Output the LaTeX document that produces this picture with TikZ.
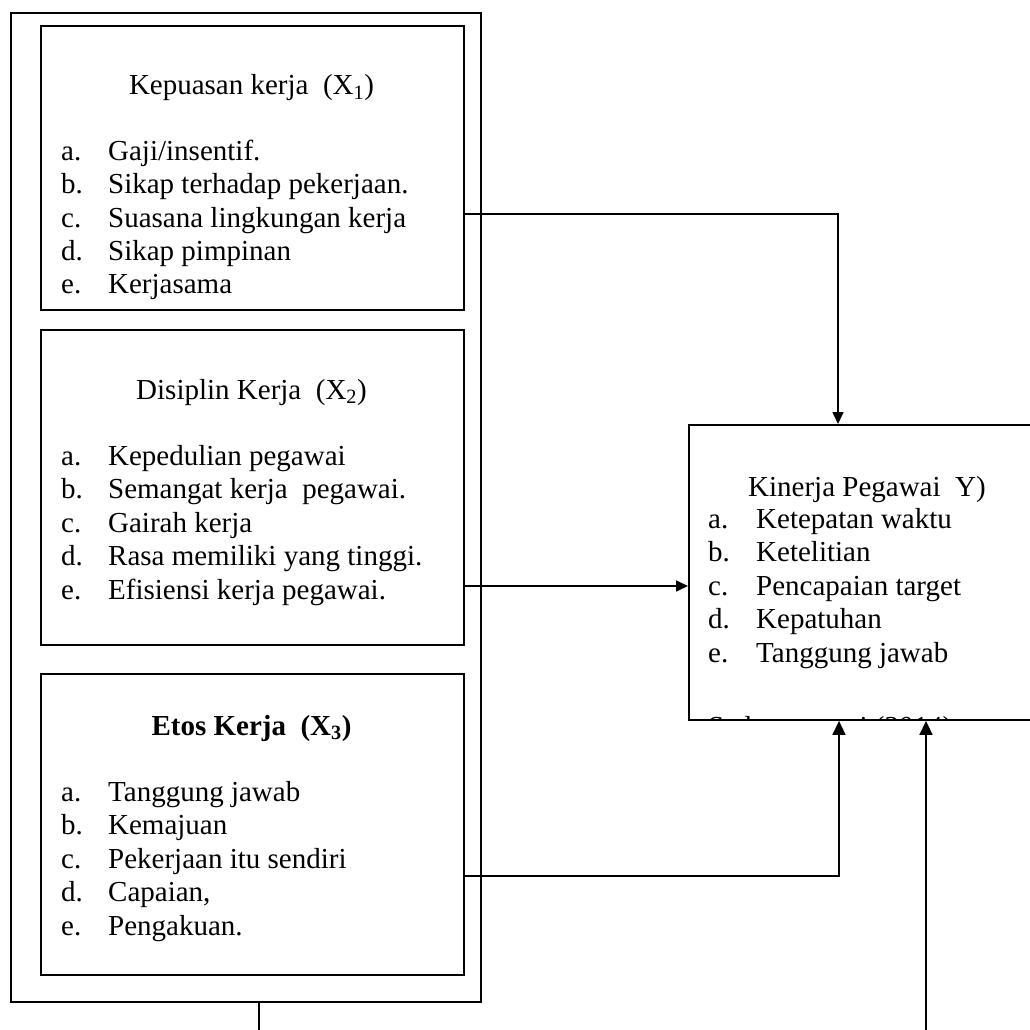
\documentclass[tikz,border=0pt]{standalone}
\usepackage{fontspec}
\setmainfont{Liberation Serif}
\usetikzlibrary{arrows.meta,calc}
\begin{document}
\begin{tikzpicture}[x=1pt,y=-1pt,
  box/.style={draw,line width=1.9pt,rectangle,inner sep=0pt,anchor=north west},
  lst/.style={anchor=base west,inner sep=0pt,font=\fontsize{29}{33.5}\selectfont},
  ttl/.style={anchor=base,inner sep=0pt,font=\fontsize{29}{33.5}\selectfont},
  conn/.style={line width=1.6pt},
  arr/.style={conn,-{Triangle[length=12pt,width=11pt]}},
  bigarr/.style={conn,-{Triangle[length=14pt,width=13pt]}}]
\useasboundingbox (0,0) rectangle (1030,1030);

% boxes
\node[box,minimum width=470pt,minimum height=989pt] (outer) at (10,12) {};
\node[box,minimum width=423pt,minimum height=284pt] (x1) at (40,25) {};
\node[box,minimum width=423pt,minimum height=315pt] (x2) at (40,329) {};
\node[box,minimum width=423pt,minimum height=301pt] (x3) at (40,673) {};
\node[box,minimum width=360pt,minimum height=295pt] (y) at (688,424) {};

% X1
\node[ttl] (t1) at (251.5,95) {Kepuasan kerja~ (X\textsubscript{1})};
\node[lst] (l1) at (61,160) {\begin{tabular}[t]{@{}p{47pt}@{}l@{}}
a. & Gaji/insentif.\\
b. & Sikap terhadap pekerjaan.\\
c. & Suasana lingkungan kerja\\
d. & Sikap pimpinan\\
e. & Kerjasama
\end{tabular}};

% X2
\node[ttl] (t2) at (251.5,399) {Disiplin Kerja~ (X\textsubscript{2})};
\node[lst] (l2) at (61,465) {\begin{tabular}[t]{@{}p{47pt}@{}l@{}}
a. & Kepedulian pegawai\\
b. & Semangat kerja~ pegawai.\\
c. & Gairah kerja\\
d. & Rasa memiliki yang tinggi.\\
e. & Efisiensi kerja pegawai.
\end{tabular}};

% X3
\node[ttl] (t3) at (251.5,735) {\bfseries Etos Kerja~ (X\textsubscript{3})};
\node[lst] (l3) at (61,801) {\begin{tabular}[t]{@{}p{47pt}@{}l@{}}
a. & Tanggung jawab\\
b. & Kemajuan\\
c. & Pekerjaan itu sendiri\\
d. & Capaian,\\
e. & Pengakuan.
\end{tabular}};

% Y
\node[lst] (ty) at (748,496) {Kinerja Pegawai~ Y)};
\node[lst] (ly) at (708,528) {\begin{tabular}[t]{@{}p{48pt}@{}l@{}}
a. & Ketepatan waktu\\
b. & Ketelitian\\
c. & Pencapaian target\\
d. & Kepatuhan\\
e. & Tanggung jawab
\end{tabular}};
\begin{scope}
  \clip (y.north west) rectangle (y.south east);
  \node[lst] (src) at (708,736) {Sedarmayanti (2014)};
\end{scope}

% connectors
\draw[arr] (x1.east |- 0,214) -| ([xshift=150pt]y.north west);
\draw[arr] (x2.east |- 0,586) -- (y.west |- 0,586);
\draw[bigarr] (x3.east |- 0,876) -| ([xshift=151pt]y.south west);
\coordinate (b1) at (259,1030);
\coordinate (b2) at (926,1030);
\draw[conn] (b1 |- outer.south) -- (b1);
\draw[bigarr] (b2) -- (b2 |- y.south);
\end{tikzpicture}
\end{document}
